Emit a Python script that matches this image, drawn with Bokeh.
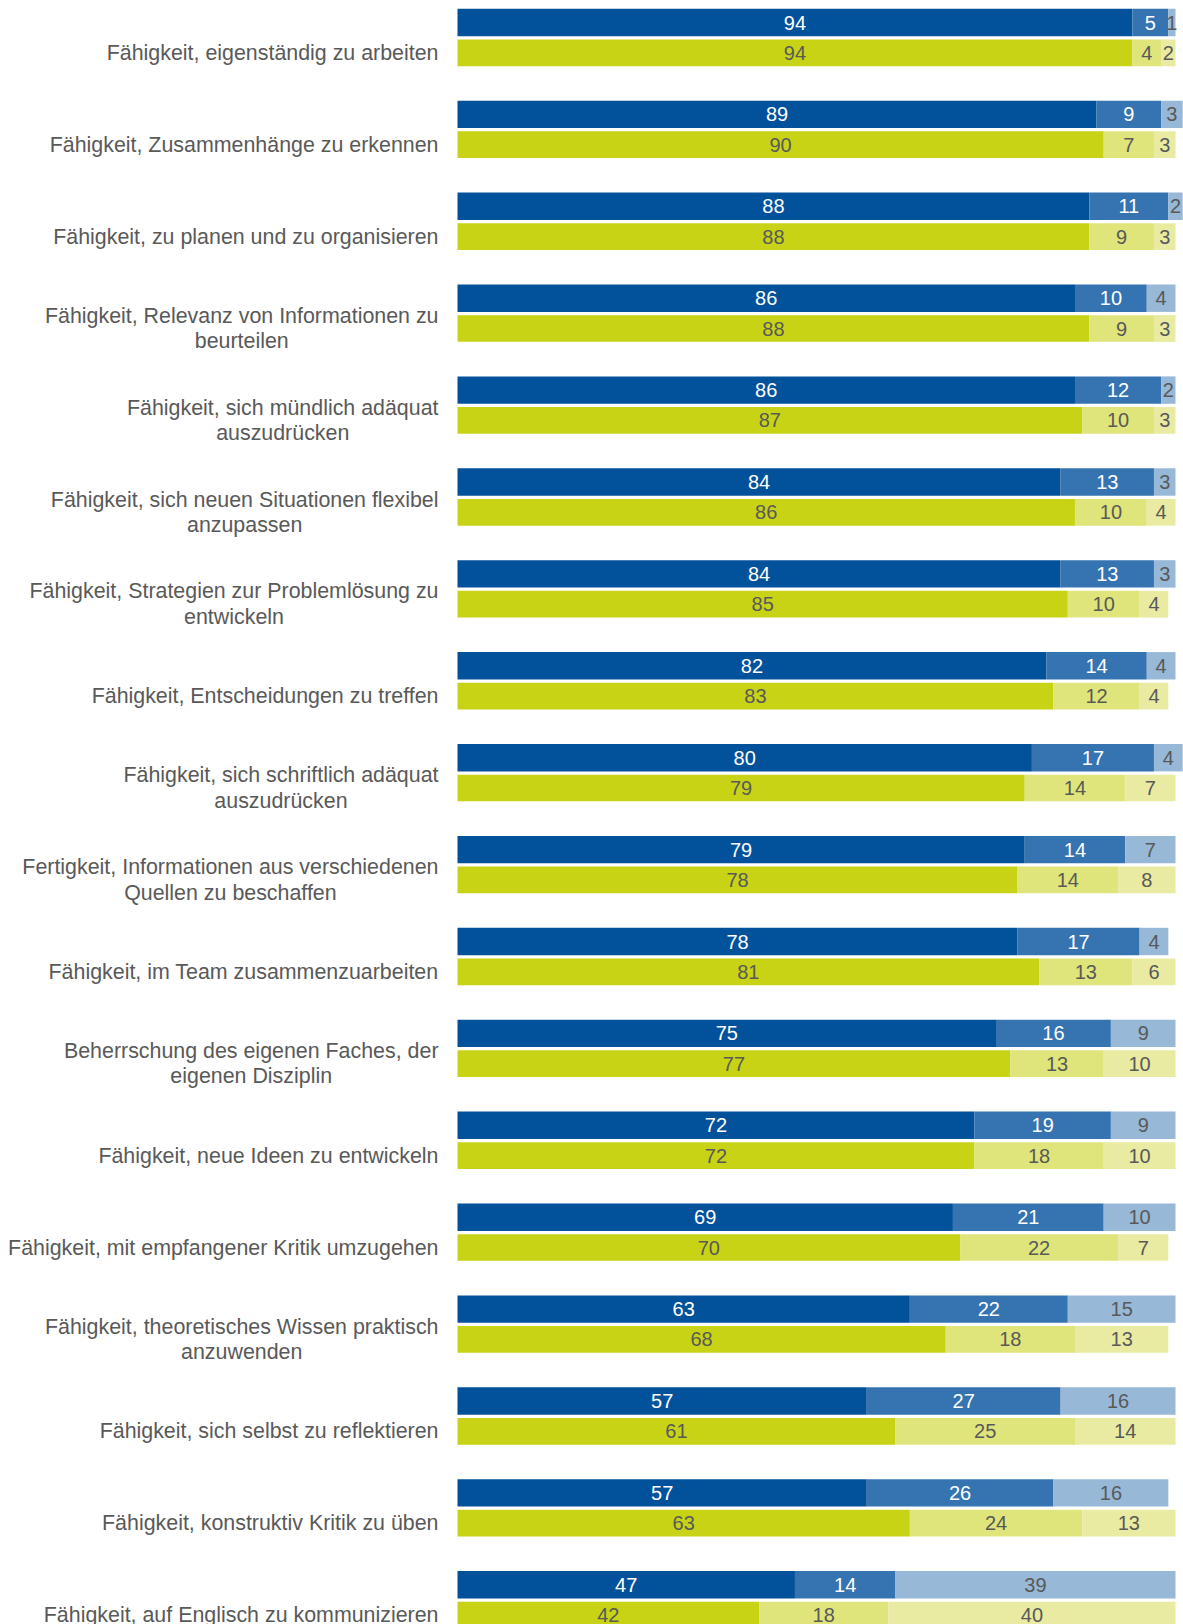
from bokeh.plotting import figure
from bokeh.models import Range1d, ColumnDataSource
from bokeh.core.properties import value
from bokeh.embed import file_html
from bokeh.resources import INLINE

labels = [
    "Fähigkeit, eigenständig zu arbeiten",
    "Fähigkeit, Zusammenhänge zu erkennen",
    "Fähigkeit, zu planen und zu organisieren",
    "Fähigkeit, Relevanz von Informationen zu\nbeurteilen",
    "Fähigkeit, sich mündlich adäquat\nauszudrücken",
    "Fähigkeit, sich neuen Situationen flexibel\nanzupassen",
    "Fähigkeit, Strategien zur Problemlösung zu\nentwickeln",
    "Fähigkeit, Entscheidungen zu treffen",
    "Fähigkeit, sich schriftlich adäquat\nauszudrücken",
    "Fertigkeit, Informationen aus verschiedenen\nQuellen zu beschaffen",
    "Fähigkeit, im Team zusammenzuarbeiten",
    "Beherrschung des eigenen Faches, der\neigenen Disziplin",
    "Fähigkeit, neue Ideen zu entwickeln",
    "Fähigkeit, mit empfangener Kritik umzugehen",
    "Fähigkeit, theoretisches Wissen praktisch\nanzuwenden",
    "Fähigkeit, sich selbst zu reflektieren",
    "Fähigkeit, konstruktiv Kritik zu üben",
    "Fähigkeit, auf Englisch zu kommunizieren",
]

# top (blue) series: three segments
blue_1 = [94, 89, 88, 86, 86, 84, 84, 82, 80, 79, 78, 75, 72, 69, 63, 57, 57, 47]
blue_2 = [5, 9, 11, 10, 12, 13, 13, 14, 17, 14, 17, 16, 19, 21, 22, 27, 26, 14]
blue_3 = [1, 3, 2, 4, 2, 3, 3, 4, 4, 7, 4, 9, 9, 10, 15, 16, 16, 39]

# bottom (green) series: three segments
green_1 = [94, 90, 88, 88, 87, 86, 85, 83, 79, 78, 81, 77, 72, 70, 68, 61, 63, 42]
green_2 = [4, 7, 9, 9, 10, 10, 10, 12, 14, 14, 13, 13, 18, 22, 18, 25, 24, 18]
green_3 = [2, 3, 3, 3, 3, 4, 4, 4, 7, 8, 6, 10, 10, 7, 13, 14, 13, 40]

blue_colors = ["#02529b", "#3574b1", "#97b8d7"]
green_colors = ["#c8d316", "#dfe57a", "#e9eba2"]
blue_text = ["white", "white", "#595959"]
green_text = ["#595959", "#595959", "#595959"]

W, H = 1183, 1624
PX_PER_PCT = 7.18
GROUP_PX = 91.9
BAR_LEFT_PX = 457
x0 = -BAR_LEFT_PX / PX_PER_PCT

p = figure(width=W, height=H, output_backend="svg", toolbar_location=None,
           x_range=Range1d(x0, x0 + W / PX_PER_PCT),
           y_range=Range1d(H / GROUP_PX, 0),
           min_border=0, outline_line_color=None)
p.axis.visible = False
p.grid.visible = False
p.background_fill_color = "white"

n = len(labels)
blue_y = [i + 22.0 / GROUP_PX for i in range(n)]
green_y = [i + 52.3 / GROUP_PX for i in range(n)]
blue_h = 27.4 / GROUP_PX
green_h = 26.7 / GROUP_PX

def draw(series, ys, height, colors, tcolors):
    left = [0] * n
    for vals, col, tcol in zip(series, colors, tcolors):
        right = [l + v for l, v in zip(left, vals)]
        src = ColumnDataSource(dict(y=ys, left=left, right=right,
                                    xm=[(l + r) / 2 for l, r in zip(left, right)],
                                    t=[str(v) for v in vals]))
        p.hbar(y="y", left="left", right="right", height=height, source=src,
               fill_color=col, line_color=None)
        p.text(x="xm", y="y", text="t", source=src, text_align="center",
               text_baseline="middle", text_font=value("Liberation Sans"),
               text_font_size="20px", text_color=tcol)
        left = right

draw([blue_1, blue_2, blue_3], blue_y, blue_h, blue_colors, blue_text)
draw([green_1, green_2, green_3], green_y, green_h, green_colors, green_text)

lsrc = ColumnDataSource(dict(x=[0] * n, y=green_y, t=labels))
p.text(x="x", y="y", text="t", source=lsrc, x_offset=-19,
       anchor="center_right", text_align="center", text_baseline="middle",
       text_font=value("Liberation Sans"), text_font_size="21.4px",
       text_color="#595959", text_line_height=1.06)

open("out.html", "w").write(file_html(p, INLINE))
